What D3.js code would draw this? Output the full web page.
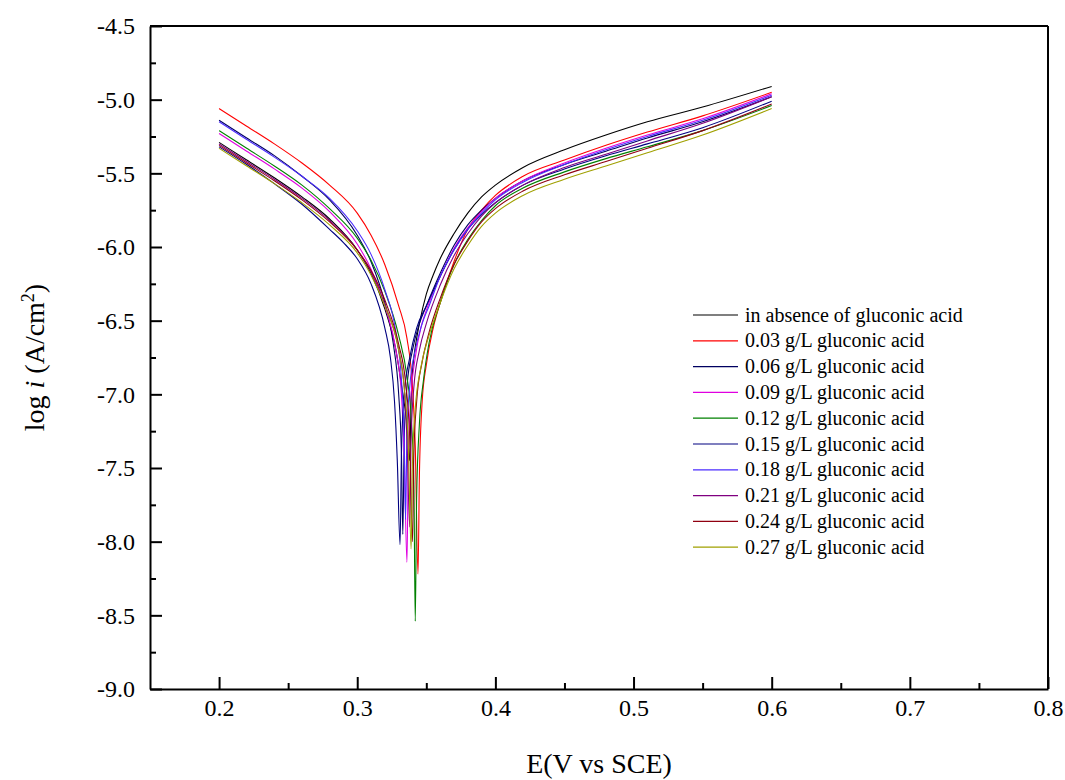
<!DOCTYPE html>
<html><head><meta charset="utf-8">
<script src="https://cdn.jsdelivr.net/npm/d3@7"></script>
<style>
body{margin:0;background:#fff}
svg{display:block}
text{font-family:"Liberation Serif","Times New Roman",serif;fill:#000}
</style>
</head><body>
<svg id="chart" width="1065" height="780"></svg>
<script>
// ---- data ----
const seriesLabels = [
  "in absence of gluconic acid",
  "0.03 g/L gluconic acid",
  "0.06 g/L gluconic acid",
  "0.09 g/L gluconic acid",
  "0.12 g/L gluconic acid",
  "0.15 g/L gluconic acid",
  "0.18 g/L gluconic acid",
  "0.21 g/L gluconic acid",
  "0.24 g/L gluconic acid",
  "0.27 g/L gluconic acid"
];
const seriesColors = ["#000000","#ff0000","#000060","#e000e0","#008000","#000080","#4b2cff","#800080","#900010","#a0a000"];

const xTickValues = [0.2,0.3,0.4,0.5,0.6,0.7,0.8];
const xMinorValues = [0.25,0.35,0.45,0.55,0.65,0.75];
const yTickValues = [-4.5,-5.0,-5.5,-6.0,-6.5,-7.0,-7.5,-8.0,-8.5,-9.0];
const yMinorValues = [-4.75,-5.25,-5.75,-6.25,-6.75,-7.25,-7.75,-8.25,-8.75];

// [E (V vs SCE), log i]
const blank = [[0.20,-5.29],[0.22,-5.41],[0.24,-5.53],[0.26,-5.66],[0.28,-5.81],[0.30,-6.02],[0.31,-6.18],[0.32,-6.42],[0.328,-6.70],[0.333,-7.0],[0.336,-7.2],[0.338,-7.45],
  [0.339,-7.05],[0.340,-6.85],[0.342,-6.68],[0.345,-6.52],[0.35,-6.32],[0.355,-6.19],[0.36,-6.08],[0.37,-5.91],[0.38,-5.77],[0.39,-5.66],[0.40,-5.58],[0.42,-5.46],[0.45,-5.34],[0.48,-5.24],[0.51,-5.15],[0.55,-5.05],[0.60,-4.91]];
const c003 = [[0.20,-5.06],[0.22,-5.18],[0.24,-5.30],[0.26,-5.43],[0.28,-5.58],[0.30,-5.77],[0.31,-5.92],[0.32,-6.12],[0.33,-6.40],[0.336,-6.62],[0.340,-6.95],[0.342,-7.35],[0.344,-8.22],
  [0.345,-7.55],[0.347,-7.05],[0.35,-6.80],[0.355,-6.55],[0.36,-6.38],[0.37,-6.10],[0.38,-5.88],[0.39,-5.75],[0.40,-5.65],[0.42,-5.52],[0.45,-5.41],[0.48,-5.31],[0.51,-5.22],[0.55,-5.11],[0.60,-4.95]];
const c006 = [[0.20,-5.14],[0.22,-5.26],[0.24,-5.38],[0.26,-5.52],[0.28,-5.68],[0.30,-5.92],[0.31,-6.10],[0.32,-6.38],[0.326,-6.65],[0.330,-7.0],[0.332,-7.4],[0.333,-7.95],
  [0.334,-7.3],[0.336,-6.95],[0.34,-6.70],[0.345,-6.52],[0.35,-6.40],[0.36,-6.18],[0.37,-5.99],[0.38,-5.85],[0.39,-5.75],[0.40,-5.67],[0.42,-5.55],[0.45,-5.44],[0.48,-5.35],[0.51,-5.26],[0.55,-5.15],[0.60,-4.98]];
const c009 = [[0.20,-5.23],[0.22,-5.35],[0.24,-5.47],[0.26,-5.60],[0.28,-5.76],[0.30,-5.98],[0.31,-6.15],[0.32,-6.40],[0.328,-6.70],[0.332,-7.0],[0.334,-7.4],[0.336,-8.14],
  [0.337,-7.4],[0.339,-7.0],[0.342,-6.75],[0.346,-6.55],[0.35,-6.43],[0.36,-6.20],[0.37,-6.01],[0.38,-5.87],[0.39,-5.76],[0.40,-5.67],[0.42,-5.55],[0.45,-5.43],[0.48,-5.33],[0.51,-5.24],[0.55,-5.13],[0.60,-4.96]];
const c012 = [[0.20,-5.21],[0.22,-5.33],[0.24,-5.45],[0.26,-5.58],[0.28,-5.74],[0.30,-5.94],[0.31,-6.09],[0.32,-6.30],[0.33,-6.60],[0.336,-6.88],[0.339,-7.15],[0.341,-7.6],[0.342,-8.54],
  [0.343,-7.7],[0.345,-7.2],[0.348,-6.9],[0.352,-6.65],[0.36,-6.38],[0.37,-6.12],[0.38,-5.95],[0.39,-5.82],[0.40,-5.72],[0.42,-5.60],[0.45,-5.49],[0.48,-5.40],[0.51,-5.32],[0.55,-5.21],[0.60,-5.04]];
const c015 = [[0.20,-5.32],[0.22,-5.44],[0.24,-5.57],[0.26,-5.71],[0.28,-5.88],[0.29,-5.97],[0.30,-6.08],[0.31,-6.25],[0.32,-6.55],[0.324,-6.75],[0.327,-7.05],[0.329,-7.45],[0.331,-8.02],
  [0.332,-7.4],[0.334,-7.0],[0.338,-6.75],[0.343,-6.55],[0.35,-6.40],[0.36,-6.20],[0.37,-6.02],[0.38,-5.88],[0.39,-5.78],[0.40,-5.70],[0.42,-5.58],[0.45,-5.47],[0.48,-5.38],[0.51,-5.30],[0.55,-5.19],[0.60,-5.01]];
const c018 = [[0.20,-5.15],[0.22,-5.27],[0.24,-5.39],[0.26,-5.52],[0.28,-5.67],[0.30,-5.89],[0.31,-6.05],[0.32,-6.29],[0.328,-6.58],[0.332,-6.9],[0.334,-7.3],[0.335,-7.85],
  [0.336,-7.25],[0.338,-6.95],[0.342,-6.70],[0.347,-6.52],[0.352,-6.40],[0.36,-6.20],[0.37,-6.02],[0.38,-5.88],[0.39,-5.77],[0.40,-5.68],[0.42,-5.56],[0.45,-5.44],[0.48,-5.34],[0.51,-5.25],[0.55,-5.14],[0.60,-4.97]];
const c021 = [[0.20,-5.30],[0.22,-5.42],[0.24,-5.54],[0.26,-5.67],[0.28,-5.82],[0.30,-6.02],[0.31,-6.17],[0.32,-6.39],[0.33,-6.70],[0.334,-6.95],[0.336,-7.3],[0.338,-7.9],
  [0.339,-7.3],[0.341,-6.95],[0.345,-6.70],[0.35,-6.52],[0.36,-6.26],[0.37,-6.06],[0.38,-5.91],[0.39,-5.79],[0.40,-5.70],[0.42,-5.58],[0.45,-5.46],[0.48,-5.37],[0.51,-5.28],[0.55,-5.16],[0.60,-4.98]];
const c024 = [[0.20,-5.31],[0.22,-5.43],[0.24,-5.55],[0.26,-5.68],[0.28,-5.83],[0.30,-6.02],[0.31,-6.16],[0.32,-6.36],[0.33,-6.66],[0.335,-6.92],[0.338,-7.3],[0.340,-8.0],
  [0.341,-7.4],[0.343,-7.05],[0.347,-6.78],[0.352,-6.58],[0.36,-6.35],[0.37,-6.12],[0.38,-5.96],[0.39,-5.83],[0.40,-5.74],[0.42,-5.62],[0.45,-5.51],[0.48,-5.42],[0.51,-5.33],[0.55,-5.21],[0.60,-5.03]];
const c027 = [[0.20,-5.33],[0.22,-5.45],[0.24,-5.57],[0.26,-5.70],[0.28,-5.85],[0.30,-6.04],[0.31,-6.19],[0.32,-6.40],[0.33,-6.70],[0.334,-6.95],[0.337,-7.35],[0.339,-8.05],
  [0.340,-7.45],[0.342,-7.1],[0.346,-6.82],[0.352,-6.60],[0.36,-6.38],[0.37,-6.15],[0.38,-5.99],[0.39,-5.86],[0.40,-5.77],[0.42,-5.65],[0.45,-5.54],[0.48,-5.45],[0.51,-5.36],[0.55,-5.24],[0.60,-5.06]];

const seriesData = [blank,c003,c006,c009,c012,c015,c018,c021,c024,c027];

// ---- layout ----
const svg = d3.select("#chart");
const L = 150, R = 1048, T = 26, B = 689;
const x = d3.scaleLinear().domain([0.15, 0.8]).range([L, R]);
const y = d3.scaleLinear().domain([-9.0, -4.5]).range([B, T]);
const fmt = v => d3.format(".1f")(v).replace("\u2212", "-");

// curves
const line = d3.line().x(d => x(d[0])).y(d => y(d[1])).curve(d3.curveMonotoneX);
const curves = svg.append("g");
seriesData.forEach((data, i) => {
  curves.append("path").datum(data)
    .attr("d", line)
    .attr("fill", "none")
    .attr("stroke", seriesColors[i])
    .attr("stroke-width", 1.1);
});

// frame (top and right)
svg.append("line").attr("x1", L).attr("x2", R).attr("y1", T).attr("y2", T).attr("stroke", "#000").attr("stroke-width", 2);
svg.append("line").attr("x1", R).attr("x2", R).attr("y1", T).attr("y2", B).attr("stroke", "#000").attr("stroke-width", 2);

const tickFont = '"Liberation Serif","Times New Roman",serif';
// x axis
const xAxis = svg.append("g").attr("transform", `translate(0,${B})`)
  .call(d3.axisBottom(x).tickValues(xTickValues).tickFormat(fmt).tickSizeInner(-12).tickSizeOuter(0).tickPadding(10));
xAxis.select(".domain").attr("stroke-width", 2);
xAxis.selectAll(".tick line").attr("stroke-width", 2);
xAxis.selectAll("text").style("font-family", tickFont).style("font-size", "24px");
const xMinor = svg.append("g").attr("transform", `translate(0,${B})`)
  .call(d3.axisBottom(x).tickValues(xMinorValues).tickFormat("").tickSizeInner(-6).tickSizeOuter(0));
xMinor.select(".domain").remove();
xMinor.selectAll(".tick line").attr("stroke-width", 2);

// y axis
const yAxis = svg.append("g").attr("transform", `translate(${L},0)`)
  .call(d3.axisLeft(y).tickValues(yTickValues).tickFormat(fmt).tickSizeInner(-12).tickSizeOuter(0).tickPadding(15));
yAxis.select(".domain").attr("stroke-width", 2);
yAxis.selectAll(".tick line").attr("stroke-width", 2);
yAxis.selectAll("text").style("font-family", tickFont).style("font-size", "24px");
const yMinor = svg.append("g").attr("transform", `translate(${L},0)`)
  .call(d3.axisLeft(y).tickValues(yMinorValues).tickFormat("").tickSizeInner(-6).tickSizeOuter(0));
yMinor.select(".domain").remove();
yMinor.selectAll(".tick line").attr("stroke-width", 2);

// axis titles
svg.append("text").attr("x", (L + R) / 2).attr("y", 773).attr("text-anchor", "middle")
  .style("font-size", "28px").text("E(V vs SCE)");
const yt = svg.append("text").attr("transform", `translate(44,${(T + B) / 2}) rotate(-90)`)
  .attr("text-anchor", "middle").style("font-size", "28px");
yt.append("tspan").text("log ");
yt.append("tspan").style("font-style", "italic").text("i");
yt.append("tspan").text(" (A/cm");
yt.append("tspan").attr("dy", -10).style("font-size", "18px").text("2");
yt.append("tspan").attr("dy", 10).text(")");

// legend
const lg = svg.append("g");
seriesLabels.forEach((lab, i) => {
  const yy = 315 + i * 25.8;
  lg.append("line").attr("x1", 693).attr("x2", 738).attr("y1", yy).attr("y2", yy)
    .attr("stroke", seriesColors[i]).attr("stroke-width", 1.2);
  lg.append("text").attr("x", 745).attr("y", yy).attr("dy", "0.33em")
    .style("font-size", "20px").text(lab);
});
</script>
</body></html>
